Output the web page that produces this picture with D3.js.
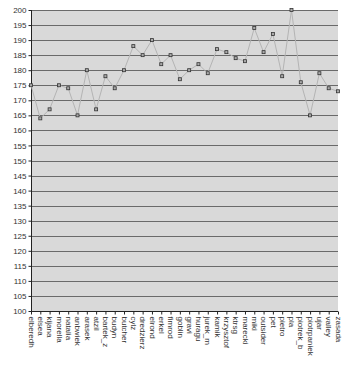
<!DOCTYPE html>
<html><head><meta charset="utf-8">
<script src="https://cdn.jsdelivr.net/npm/d3@7"></script>
<style>body{margin:0;background:#fff}svg{display:block}</style>
</head><body>
<script>
const categories = ["elberedh","elsea","kijana","morella","natalia","anbwiek","arasek","atzil","bartek_z","budyn","butcher","cylz","dredzierz","elrond","erkel","fimrod","goblin","gravi","huragu","jurek_m","kamik","krzysztof","ktrsg","marecki","miki","outsider","pet","pietro","pla","piotrek_b","piotrpaniek","ujar","valley","zasada"];
const values = [175,164,167,175,174,165,180,167,178,174,180,188,185,190,182,185,177,180,182,179,187,186,184,183,194,186,192,178,200,176,165,179,174,173];
const yTicks = [100,105,110,115,120,125,130,135,140,145,150,155,160,165,170,175,180,185,190,195,200];

const W=359,H=384;
const L=31,R=338,T=10,B=311;
const svg=d3.select("body").append("svg").attr("width",W).attr("height",H);
const x=d3.scalePoint().domain(categories).range([L,R]);
const y=d3.scaleLinear().domain([100,200]).range([B,T]);

svg.append("rect").attr("x",L).attr("y",T).attr("width",R-L).attr("height",B-T).attr("fill","#d9d9d9");
svg.append("g").selectAll("line").data(yTicks.slice(1)).join("line")
  .attr("x1",L).attr("x2",R).attr("y1",d=>Math.round(y(d))+0.5).attr("y2",d=>Math.round(y(d))+0.5)
  .attr("stroke","#6a6a6a").attr("stroke-width",1);

const ya=svg.append("g").attr("transform",`translate(${L+0.5},0)`)
  .call(d3.axisLeft(y).tickValues(yTicks).tickSize(3).tickPadding(2).tickFormat(d3.format("d")));
ya.selectAll("text").attr("font-family","Liberation Sans, Arial, sans-serif").attr("font-size",8).attr("fill","#333");
ya.selectAll("line,path").attr("stroke","#222");
ya.select(".domain").attr("d",`M0,${T}V${B}`);

const xa=svg.append("g").attr("transform",`translate(0,${B+0.5})`)
  .call(d3.axisBottom(x).tickSize(3).tickPadding(2));
xa.selectAll("line,path").attr("stroke","#222");
xa.select(".domain").attr("d",`M${L},0H${R}`);
xa.selectAll("text").attr("font-family","Liberation Sans, Arial, sans-serif").attr("font-size",8).attr("fill","#333")
  .attr("transform","rotate(90)").attr("text-anchor","start").attr("dy","0.35em").attr("x",5).attr("y",0);

svg.append("path").datum(values).attr("fill","none").attr("stroke","#b4b4b4").attr("stroke-width",1)
  .attr("d",d3.line().x((d,i)=>x(categories[i])).y(d=>y(d)));
svg.append("g").selectAll("rect").data(values).join("rect")
  .attr("x",(d,i)=>x(categories[i])-1.5).attr("y",d=>y(d)-1.5).attr("width",3).attr("height",3)
  .attr("fill","#aaa").attr("stroke","#333").attr("stroke-width",0.8);
</script>
</body></html>
